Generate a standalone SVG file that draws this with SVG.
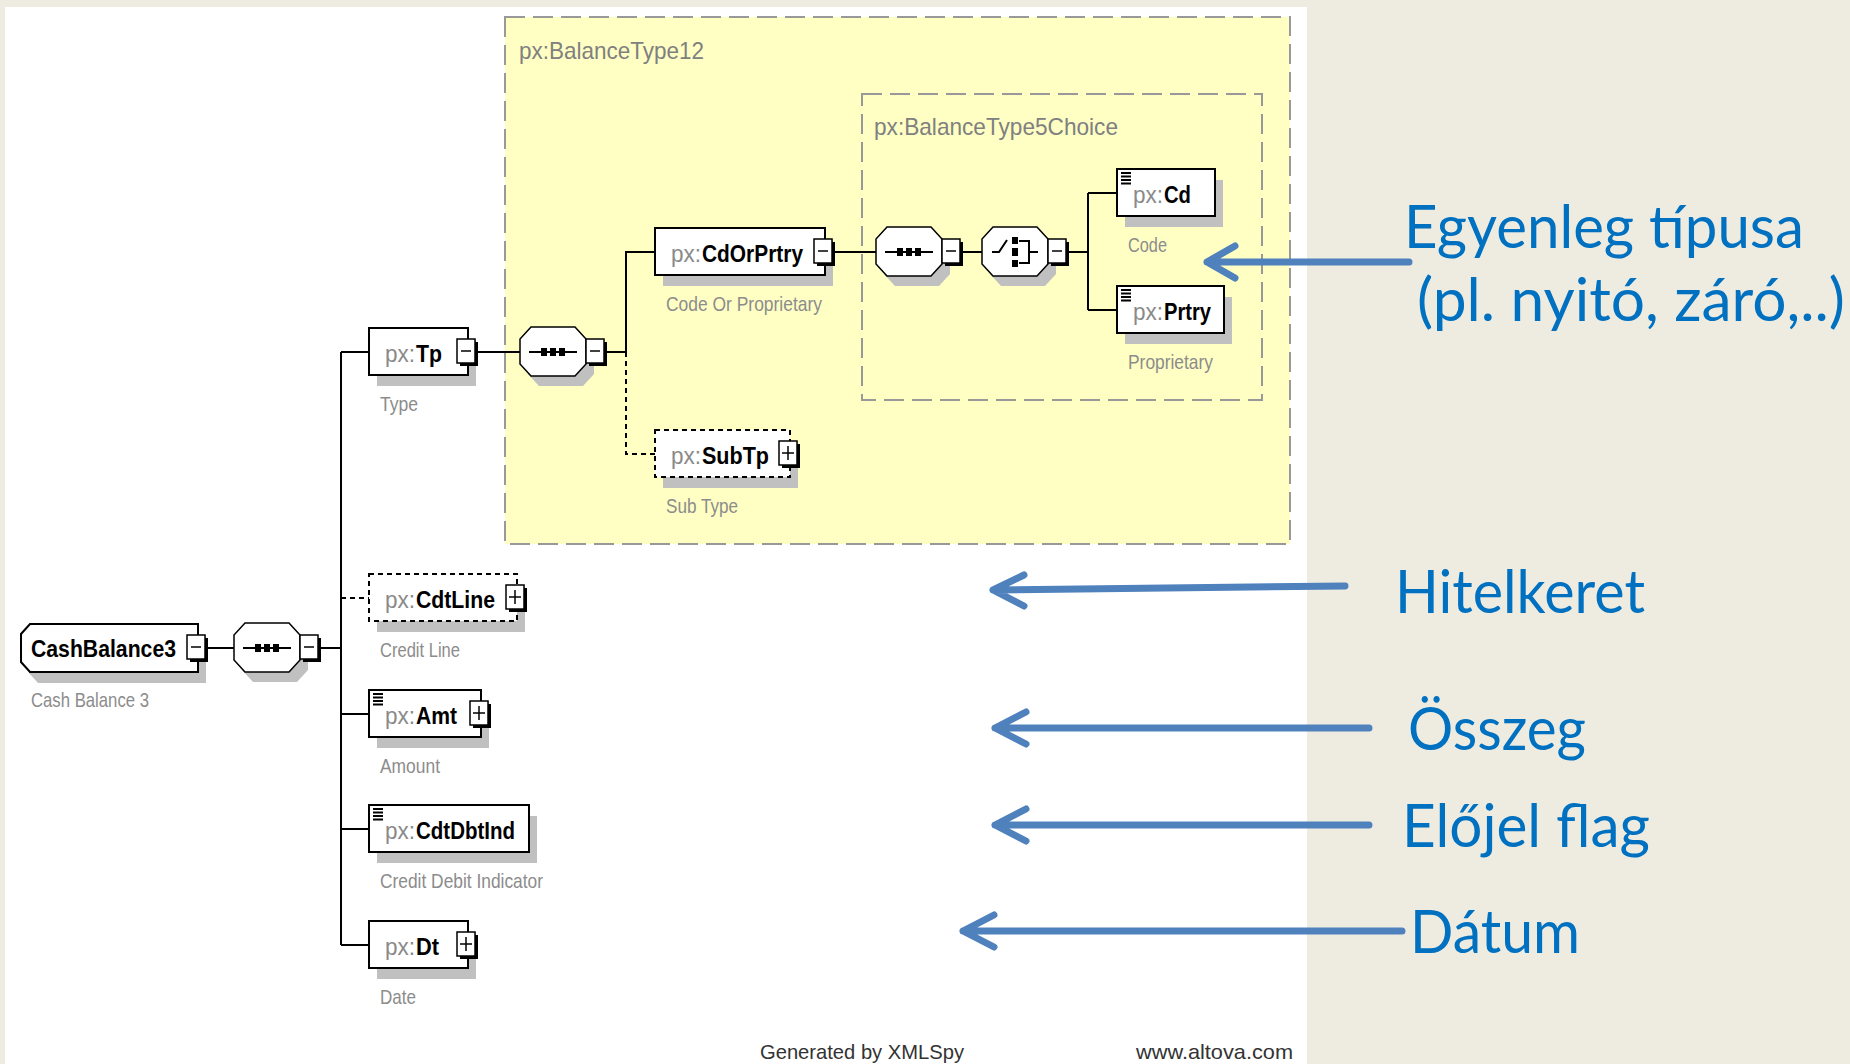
<svg xmlns="http://www.w3.org/2000/svg" xmlns:xlink="http://www.w3.org/1999/xlink" width="1850" height="1064" viewBox="0 0 1850 1064">
<style>
.nm{font-family:"Liberation Sans",Arial,sans-serif;font-size:24px}
.px{fill:#8a8a8a}
.bn{fill:#000;font-weight:bold}
.lbl{font-family:"Liberation Sans",Arial,sans-serif;font-size:21px;fill:#8c8c8c}
.grp{font-family:"Liberation Sans",Arial,sans-serif;font-size:24px;fill:#808080}
.box{fill:#fff;stroke:#000;stroke-width:2}
.dbox{fill:#fff;stroke:#000;stroke-width:2;stroke-dasharray:5 4}
.shd{fill:#c0c0c0}
.ln{stroke:#000;stroke-width:2;fill:none}
.dln{stroke:#000;stroke-width:2;fill:none;stroke-dasharray:5 4}
.ybox{fill:#ffffc4;stroke:#999;stroke-width:2;stroke-dasharray:20 8}
.ibox{fill:none;stroke:#999;stroke-width:2;stroke-dasharray:20 8}
.ann{font-family:Lato,"Open Sans",sans-serif;font-size:60px;fill:#0070c0}
.arr{stroke:#4f81bd;stroke-width:7;fill:none;stroke-linecap:round;stroke-linejoin:round}
.foot{font-family:"Liberation Sans",Arial,sans-serif;font-size:21px;fill:#333}
</style>
<defs>
<path id="oct" d="M11,-25 H55 L66,-13 V12 L55,24 H11 L0,12 V-13 Z"/>
<g id="btnM"><rect x="3" y="3" width="18" height="24" fill="#000"/><rect x="0" y="0" width="18" height="24" fill="#fff" stroke="#000" stroke-width="1.5"/><line x1="4" y1="12" x2="14" y2="12" stroke="#000" stroke-width="1.5"/></g>
<g id="btnP"><rect x="3" y="3" width="18" height="24" fill="#000"/><rect x="0" y="0" width="18" height="24" fill="#fff" stroke="#000" stroke-width="1.5"/><line x1="3" y1="12" x2="15" y2="12" stroke="#000" stroke-width="1.5"/><line x1="9" y1="5" x2="9" y2="19" stroke="#000" stroke-width="1.5"/></g>
<g id="list" stroke="#000" stroke-width="2"><line x1="0" y1="0" x2="10" y2="0"/><line x1="0" y1="3.5" x2="10" y2="3.5"/><line x1="0" y1="7" x2="10" y2="7"/><line x1="0" y1="10.5" x2="10" y2="10.5"/></g>
<g id="seqIcon"><line x1="9" y1="0" x2="57" y2="0" stroke="#000" stroke-width="2"/><rect x="21" y="-4" width="6" height="8" fill="#000"/><rect x="30" y="-4" width="6" height="8" fill="#000"/><rect x="39" y="-4" width="6" height="8" fill="#000"/></g>
<g id="choiceIcon"><path d="M10,0 H17 L25,-12" fill="none" stroke="#000" stroke-width="2"/><rect x="30" y="-15" width="6" height="7" fill="#000"/><rect x="30" y="-4" width="6" height="8" fill="#000"/><rect x="30" y="8" width="6" height="7" fill="#000"/><path d="M37,-11 H47 V11 H37 M47,0 H56" fill="none" stroke="#000" stroke-width="2"/></g>
</defs>
<rect x="0" y="0" width="1850" height="1064" fill="#eeece1"/>
<rect x="5" y="7" width="1302" height="1057" fill="#fff"/>

<g id="BalanceType12">
<rect class="ybox" x="505" y="17" width="785" height="527"/>
<text class="grp" x="519" y="59" textLength="185" lengthAdjust="spacingAndGlyphs">px:BalanceType12</text>
</g>
<g id="BalanceType5Choice">
<rect class="ibox" x="862" y="94" width="400" height="306"/>
<text class="grp" x="874" y="135" textLength="244" lengthAdjust="spacingAndGlyphs">px:BalanceType5Choice</text>
</g>

<g id="connectors">
<path class="ln" d="M205,648 H234"/>
<path class="ln" d="M318,648 H341"/>
<path class="ln" d="M341,352 V945"/>
<path class="ln" d="M341,352 H369 M341,714 H369 M341,829 H369 M341,945 H369"/>
<path class="dln" d="M341,598 H369"/>
<path class="ln" d="M475,352 H520"/>
<path class="ln" d="M604,352 H626 V252 H655"/>
<path class="dln" d="M626,352 V454 H655"/>
<path class="ln" d="M832,252 H876"/>
<path class="ln" d="M960,252 H982"/>
<path class="ln" d="M1066,252 H1088 M1088,193 V310 M1088,193 H1117 M1088,310 H1117"/>
</g>

<g id="CashBalance3">
<path class="shd" d="M38,635 H206 V683 H38 L29,673 V645 Z"/>
<path class="box" d="M30,624 H198 V672 H30 L21,662 V634 Z"/>
<use xlink:href="#btnM" x="187" y="635"/>
<text class="nm bn" x="31" y="657" textLength="145" lengthAdjust="spacingAndGlyphs">CashBalance3</text>
<text class="lbl" x="31" y="707" textLength="118" lengthAdjust="spacingAndGlyphs">Cash Balance 3</text>
</g>

<g id="seq1">
<use xlink:href="#oct" x="242" y="658" class="shd"/>
<use xlink:href="#oct" x="234" y="648" fill="#fff" stroke="#000" stroke-width="1.5"/>
<use xlink:href="#seqIcon" x="234" y="648"/>
<use xlink:href="#btnM" x="300" y="635"/>
</g>

<g id="Tp">
<rect class="shd" x="377" y="339" width="99" height="47"/>
<rect class="box" x="369" y="328" width="99" height="47"/>
<use xlink:href="#btnM" x="457" y="339"/>
<text class="nm px" x="385" y="362" textLength="30" lengthAdjust="spacingAndGlyphs">px:</text>
<text class="nm bn" x="416" y="362" textLength="26" lengthAdjust="spacingAndGlyphs">Tp</text>
<text class="lbl" x="380" y="411" textLength="38" lengthAdjust="spacingAndGlyphs">Type</text>
</g>

<g id="seq2">
<use xlink:href="#oct" x="528" y="362" class="shd"/>
<use xlink:href="#oct" x="520" y="352" fill="#fff" stroke="#000" stroke-width="1.5"/>
<use xlink:href="#seqIcon" x="520" y="352"/>
<use xlink:href="#btnM" x="586" y="339"/>
</g>

<g id="CdOrPrtry">
<rect class="shd" x="663" y="239" width="170" height="47"/>
<rect class="box" x="655" y="228" width="170" height="47"/>
<use xlink:href="#btnM" x="814" y="239"/>
<text class="nm px" x="671" y="262" textLength="30" lengthAdjust="spacingAndGlyphs">px:</text>
<text class="nm bn" x="702" y="262" textLength="101" lengthAdjust="spacingAndGlyphs">CdOrPrtry</text>
<text class="lbl" x="666" y="311" textLength="156" lengthAdjust="spacingAndGlyphs">Code Or Proprietary</text>
</g>

<g id="SubTp">
<rect class="shd" x="663" y="441" width="135" height="47"/>
<rect class="dbox" x="655" y="430" width="135" height="47"/>
<use xlink:href="#btnP" x="779" y="441"/>
<text class="nm px" x="671" y="464" textLength="30" lengthAdjust="spacingAndGlyphs">px:</text>
<text class="nm bn" x="702" y="464" textLength="67" lengthAdjust="spacingAndGlyphs">SubTp</text>
<text class="lbl" x="666" y="513" textLength="72" lengthAdjust="spacingAndGlyphs">Sub Type</text>
</g>

<g id="seq3">
<use xlink:href="#oct" x="884" y="262" class="shd"/>
<use xlink:href="#oct" x="876" y="252" fill="#fff" stroke="#000" stroke-width="1.5"/>
<use xlink:href="#seqIcon" x="876" y="252"/>
<use xlink:href="#btnM" x="942" y="239"/>
</g>

<g id="choice">
<use xlink:href="#oct" x="990" y="262" class="shd"/>
<use xlink:href="#oct" x="982" y="252" fill="#fff" stroke="#000" stroke-width="1.5"/>
<use xlink:href="#choiceIcon" x="982" y="252"/>
<use xlink:href="#btnM" x="1048" y="239"/>
</g>

<g id="Cd">
<rect class="shd" x="1125" y="180" width="98" height="47"/>
<rect class="box" x="1117" y="169" width="98" height="47"/>
<use xlink:href="#list" x="1121" y="173"/>
<text class="nm px" x="1133" y="203" textLength="30" lengthAdjust="spacingAndGlyphs">px:</text>
<text class="nm bn" x="1164" y="203" textLength="27" lengthAdjust="spacingAndGlyphs">Cd</text>
<text class="lbl" x="1128" y="252" textLength="39" lengthAdjust="spacingAndGlyphs">Code</text>
</g>

<g id="Prtry">
<rect class="shd" x="1125" y="297" width="107" height="47"/>
<rect class="box" x="1117" y="286" width="107" height="47"/>
<use xlink:href="#list" x="1121" y="290"/>
<text class="nm px" x="1133" y="320" textLength="30" lengthAdjust="spacingAndGlyphs">px:</text>
<text class="nm bn" x="1164" y="320" textLength="47" lengthAdjust="spacingAndGlyphs">Prtry</text>
<text class="lbl" x="1128" y="369" textLength="85" lengthAdjust="spacingAndGlyphs">Proprietary</text>
</g>

<g id="CdtLine">
<rect class="shd" x="377" y="585" width="148" height="47"/>
<rect class="dbox" x="369" y="574" width="148" height="47"/>
<use xlink:href="#btnP" x="506" y="585"/>
<text class="nm px" x="385" y="608" textLength="30" lengthAdjust="spacingAndGlyphs">px:</text>
<text class="nm bn" x="416" y="608" textLength="79" lengthAdjust="spacingAndGlyphs">CdtLine</text>
<text class="lbl" x="380" y="657" textLength="80" lengthAdjust="spacingAndGlyphs">Credit Line</text>
</g>

<g id="Amt">
<rect class="shd" x="377" y="701" width="112" height="47"/>
<rect class="box" x="369" y="690" width="112" height="47"/>
<use xlink:href="#list" x="373" y="694"/>
<use xlink:href="#btnP" x="470" y="701"/>
<text class="nm px" x="385" y="724" textLength="30" lengthAdjust="spacingAndGlyphs">px:</text>
<text class="nm bn" x="416" y="724" textLength="41" lengthAdjust="spacingAndGlyphs">Amt</text>
<text class="lbl" x="380" y="773" textLength="60" lengthAdjust="spacingAndGlyphs">Amount</text>
</g>

<g id="CdtDbtInd">
<rect class="shd" x="377" y="816" width="160" height="47"/>
<rect class="box" x="369" y="805" width="160" height="47"/>
<use xlink:href="#list" x="373" y="809"/>
<text class="nm px" x="385" y="839" textLength="30" lengthAdjust="spacingAndGlyphs">px:</text>
<text class="nm bn" x="416" y="839" textLength="99" lengthAdjust="spacingAndGlyphs">CdtDbtInd</text>
<text class="lbl" x="380" y="888" textLength="163" lengthAdjust="spacingAndGlyphs">Credit Debit Indicator</text>
</g>

<g id="Dt">
<rect class="shd" x="377" y="932" width="99" height="47"/>
<rect class="box" x="369" y="921" width="99" height="47"/>
<use xlink:href="#btnP" x="457" y="932"/>
<text class="nm px" x="385" y="955" textLength="30" lengthAdjust="spacingAndGlyphs">px:</text>
<text class="nm bn" x="416" y="955" textLength="23" lengthAdjust="spacingAndGlyphs">Dt</text>
<text class="lbl" x="380" y="1004" textLength="36" lengthAdjust="spacingAndGlyphs">Date</text>
</g>

<g id="footer">
<text class="foot" x="760" y="1059" textLength="204" lengthAdjust="spacingAndGlyphs">Generated by XMLSpy</text>
<text class="foot" x="1136" y="1059" textLength="157" lengthAdjust="spacingAndGlyphs">www.altova.com</text>
</g>

<g id="annotations">
<path class="arr" d="M1409,262 H1207 M1235,246 L1207,262 L1235,278"/>
<path class="arr" d="M1345,586 L993,590 M1024,575 L993,590 L1024,606"/>
<path class="arr" d="M1369,728 H995 M1026,712 L995,728 L1026,744"/>
<path class="arr" d="M1369,825 H995 M1026,809 L995,825 L1026,841"/>
<path class="arr" d="M1402,931 H963 M994,915 L963,931 L994,947"/>
<text class="ann" x="1404" y="248" textLength="400" lengthAdjust="spacingAndGlyphs">Egyenleg típusa</text>
<text class="ann" x="1417" y="321" textLength="428" lengthAdjust="spacingAndGlyphs">(pl. nyitó, záró,..)</text>
<text class="ann" x="1395" y="613" textLength="250" lengthAdjust="spacingAndGlyphs">Hitelkeret</text>
<text class="ann" x="1408" y="750" textLength="178" lengthAdjust="spacingAndGlyphs">Összeg</text>
<text class="ann" x="1402" y="847" textLength="248" lengthAdjust="spacingAndGlyphs">Előjel flag</text>
<text class="ann" x="1410" y="953" textLength="170" lengthAdjust="spacingAndGlyphs">Dátum</text>
</g>
</svg>
